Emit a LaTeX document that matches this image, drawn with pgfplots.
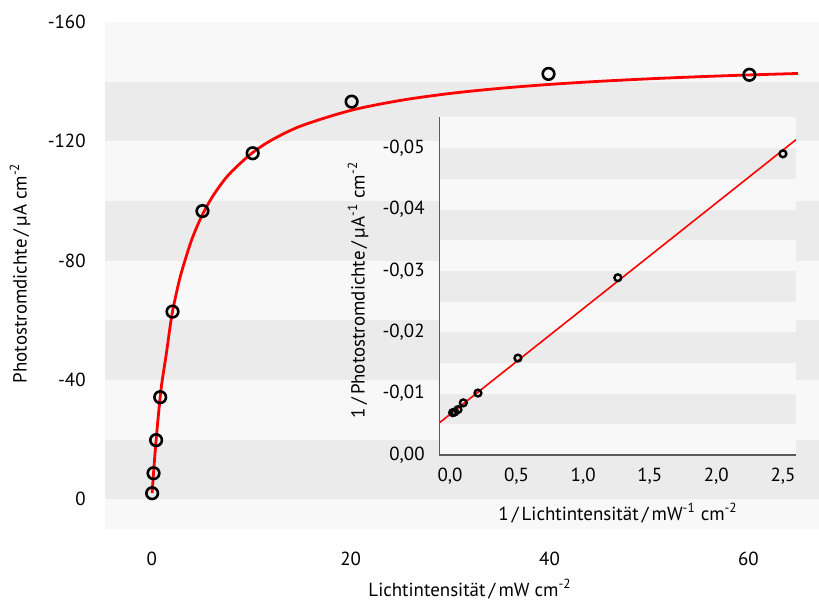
\documentclass[border=0pt]{standalone}
\usepackage{pgfplots}
\pgfplotsset{compat=1.18}
\usepackage{fontspec}
\setmainfont{PT Sans}
\definecolor{bandA}{HTML}{F8F8F8}
\definecolor{bandB}{HTML}{EBEBEB}
\definecolor{axgray}{HTML}{5A5A5A}
\definecolor{fitred}{HTML}{FF0000}
\begin{document}
\begin{tikzpicture}
\path[use as bounding box] (0,0) rectangle (409.5bp,303bp);
% main axis
\begin{axis}[
  at={(52.5bp,38.5bp)}, anchor=south west, scale only axis,
  width=357bp, height=253.5bp,
  xmin=-4.7, xmax=67.1, ymin=-160, ymax=10, y dir=reverse,
  axis line style={draw=none}, major tick length=0pt,
  xtick={0,20,40,60}, xticklabels={0,20,40,60},
  ytick={-160,-120,-80,-40,0}, yticklabels={-160,-120,-80,-40,0},
  /pgf/number format/assume math mode=true,
  tick label style={font=\fontsize{9.5}{11}\selectfont, inner sep=0pt},
  xticklabel style={anchor=north, yshift=-11.3bp},
  yticklabel style={anchor=east, xshift=-9.5bp},
]
\fill[bandA] (axis cs:-4.7,-160) rectangle (axis cs:67.1,10);
\fill[bandB] (axis cs:-4.7,-140) rectangle (axis cs:67.1,-120);
\fill[bandB] (axis cs:-4.7,-100) rectangle (axis cs:67.1,-80);
\fill[bandB] (axis cs:-4.7,-60) rectangle (axis cs:67.1,-40);
\fill[bandB] (axis cs:-4.7,-20) rectangle (axis cs:67.1,0);
\addplot[fitred, line width=1.4bp, smooth] coordinates {
(0.04,-2.05) (0.1,-5.02) (0.2,-9.72) (0.35,-16.22) (0.5,-22.14) (0.75,-30.91)
(1,-38.55) (1.5,-49.51) (2,-61.26) (2.5,-69.43) (3,-76.22) (4,-86.82)
(5,-94.73) (6,-100.86) (7,-105.74) (8,-109.72) (10,-115.83) (12,-120.30)
(15,-125.13) (20,-130.35) (25,-133.70) (30,-136.04) (35,-137.75) (40,-139.07)
(45,-140.11) (50,-140.95) (55,-141.65) (60,-142.24) (65,-142.74)};
\addplot[only marks, mark=o, mark size=2.9bp, mark options={line width=1.3bp, draw=black}] coordinates {
(0.04,-2.0) (0.18,-8.7) (0.44,-19.8) (0.85,-34.2) (2.09,-62.9) (5.1,-96.6)
(10.15,-116.0) (20.1,-133.3) (39.9,-142.6) (60.1,-142.3)};
\end{axis}
% inset axis
\begin{axis}[
  at={(219.5bp,75.5bp)}, anchor=south west, scale only axis,
  width=178.5bp, height=169bp,
  xmin=-0.0826, xmax=2.598, ymin=-0.0551, ymax=0, y dir=reverse,
  scaled x ticks=false, scaled y ticks=false,
  axis line style={draw=none}, major tick length=0pt,
  xtick={0,0.5,1,1.5,2,2.5}, xticklabels={{0,0},{0,5},{1,0},{1,5},{2,0},{2,5}},
  ytick={-0.05,-0.04,-0.03,-0.02,-0.01,0},
  yticklabels={{-0,05},{-0,04},{-0,03},{-0,02},{-0,01},{0,00}},
  /pgf/number format/assume math mode=true,
  tick label style={font=\fontsize{9.5}{11}\selectfont, inner sep=0pt},
  xticklabel style={anchor=north, yshift=-6.5bp},
  yticklabel style={anchor=east, xshift=-7bp},
]
\fill[bandA] (axis cs:-0.0826,-0.0551) rectangle (axis cs:2.598,0);
\fill[bandB] (axis cs:-0.0826,-0.05) rectangle (axis cs:2.598,-0.045);
\fill[bandB] (axis cs:-0.0826,-0.04) rectangle (axis cs:2.598,-0.035);
\fill[bandB] (axis cs:-0.0826,-0.03) rectangle (axis cs:2.598,-0.025);
\fill[bandB] (axis cs:-0.0826,-0.02) rectangle (axis cs:2.598,-0.015);
\fill[bandB] (axis cs:-0.0826,-0.01) rectangle (axis cs:2.598,-0.005);
\addplot[fitred, line width=0.8bp] coordinates {(-0.0826,-0.0052) (2.598,-0.0514)};
\addplot[only marks, mark=o, mark size=1.7bp, mark options={line width=1.2bp, draw=black}] coordinates {
(0.02,-0.0069) (0.035,-0.0070) (0.06,-0.0074) (0.1,-0.0085) (0.21,-0.0101)
(0.51,-0.0158) (1.26,-0.0289) (2.5,-0.0491)};
\draw[axgray, line width=1bp] (axis cs:-0.0826,-0.0551) -- (axis cs:-0.0826,0) -- (axis cs:2.598,0);
\end{axis}
\begin{scope}[every node/.style={font=\fontsize{9.5}{11}\selectfont, inner sep=0pt}]
\node[rotate=90] at (10bp,166.5bp) {Photostromdichte\,/\,µA cm\textsuperscript{-2}};
\node at (235bp,8.5bp) {Lichtintensität\,/\,mW cm\textsuperscript{-2}};
\node[rotate=90] at (179bp,158bp) {1\,/\,Photostromdichte\,/\,µA\textsuperscript{-1} cm\textsuperscript{-2}};
\node at (309bp,46.5bp) {1\,/\,Lichtintensität\,/\,mW\textsuperscript{-1} cm\textsuperscript{-2}};
\end{scope}
\end{tikzpicture}
\end{document}
